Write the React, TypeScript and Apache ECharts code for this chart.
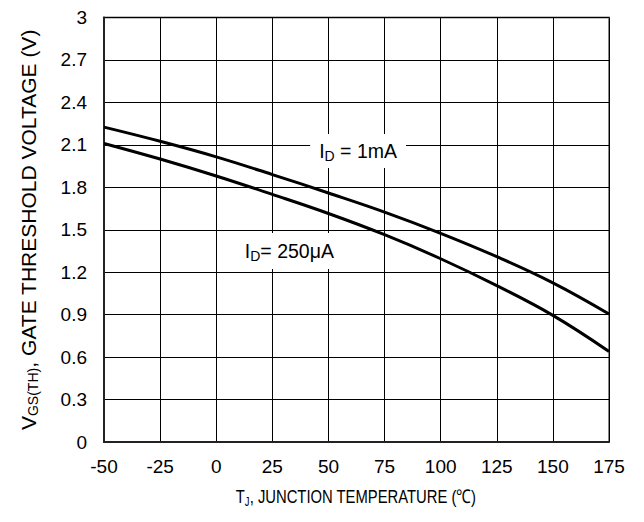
import React, { useEffect, useRef } from "react";
import * as echarts from "echarts";

const temps = [-50, -25, 0, 25, 50, 75, 100, 125, 150, 175];
const vth1mA = [2.225, 2.125, 2.015, 1.89, 1.76, 1.625, 1.475, 1.31, 1.125, 0.905];
const vth250uA = [2.11, 2.0, 1.88, 1.75, 1.615, 1.465, 1.295, 1.105, 0.895, 0.64];
const xTickLabels = ["-50", "-25", "0", "25", "50", "75", "100", "125", "150", "175"];
const yTickLabels = ["0", "0.3", "0.6", "0.9", "1.2", "1.5", "1.8", "2.1", "2.4", "2.7", "3"];
const label1mA = { x: 63.2, y: 2.056, text: "{n|I}{sub|D}{n| = 1mA}" };
const label250uA = { x: 32.6, y: 1.349, text: "{n|I}{sub|D}{n|= 250μA}" };
const xTitle = "{n|T}{sub|J}{n|, JUNCTION TEMPERATURE (℃)}";
const yTitle = "{n|V}{sub|GS(TH)}{n|, GATE THRESHOLD VOLTAGE (V)}";

const FONT = "'Liberation Sans', Arial, sans-serif";

export default function App() {
  const ref = useRef<HTMLDivElement>(null);
  useEffect(() => {
    if (!ref.current) return;
    const chart = echarts.init(ref.current, null, { renderer: "svg" });
    const richY = {
      n: { fontSize: 21, lineHeight: 24, fontFamily: FONT, color: "#000" },
      sub: { fontSize: 14, lineHeight: 16, fontFamily: FONT, color: "#000", padding: [10, 0, 0, 0] },
    };
    const richX = {
      n: { fontSize: 19, lineHeight: 22, fontFamily: FONT, color: "#000" },
      sub: { fontSize: 12, lineHeight: 14, fontFamily: FONT, color: "#000", padding: [10, 0, 0, 0] },
    };
    const richLabel = {
      n: { fontSize: 19.5, lineHeight: 24, fontFamily: FONT, color: "#000" },
      sub: { fontSize: 14, lineHeight: 16, fontFamily: FONT, color: "#000", padding: [10, 0, 0, 0] },
    };
    const mk = (l: { x: number; y: number; text: string }, pad: number[]) => ({
      symbol: "circle",
      symbolSize: 1,
      silent: true,
      itemStyle: { color: "rgba(0,0,0,0)" },
      data: [
        {
          coord: [l.x, l.y],
          label: {
            show: true,
            position: "inside",
            formatter: l.text,
            backgroundColor: "#fff",
            padding: pad,
            rich: richLabel,
          },
        },
      ],
    });
    chart.setOption({
      animation: false,
      backgroundColor: "#fff",
      grid: {
        left: 96,
        right: 27,
        top: 8,
        bottom: 72,
        show: true,
        borderColor: "#888",
        borderWidth: 2,
      },
      graphic: [
        {
          type: "text",
          x: 348,
          y: 489,
          scaleX: 0.78,
          style: {
            text: xTitle,
            rich: richX,
            align: "center",
            verticalAlign: "middle",
            fill: "#000",
          },
        },
      ],
      xAxis: {
        type: "value",
        min: -50,
        max: 175,
        interval: 25,
        axisLine: { show: true, onZero: false, lineStyle: { color: "#222", width: 2 } },
        axisTick: { show: false },
        splitLine: { show: true, lineStyle: { color: "#000", width: 1 } },
        axisLabel: {
          margin: 15,
          fontSize: 19,
          fontFamily: FONT,
          color: "#000",
          formatter: (v: number) => xTickLabels[temps.indexOf(v)] ?? String(v),
        },
      },
      yAxis: {
        type: "value",
        min: 0,
        max: 3,
        interval: 0.3,
        axisLine: { show: true, onZero: false, lineStyle: { color: "#222", width: 2 } },
        axisTick: { show: false },
        splitLine: { show: true, lineStyle: { color: "#000", width: 1 } },
        axisLabel: {
          margin: 17,
          fontSize: 19,
          fontFamily: FONT,
          color: "#000",
          formatter: (v: number) => yTickLabels[Math.round(v / 0.3)] ?? String(v),
        },
        name: yTitle,
        nameLocation: "middle",
        nameRotate: 90,
        nameGap: 64,
        nameTextStyle: { rich: richY },
      },
      series: [
        {
          type: "line",
          name: "1mA",
          data: temps.map((t, i) => [t, vth1mA[i]]),
          smooth: 0.4,
          showSymbol: false,
          lineStyle: { color: "#000", width: 3 },
          z: 3,
          markPoint: mk(label1mA, [5, 9, 5, 9]),
        },
        {
          type: "line",
          name: "250uA",
          data: temps.map((t, i) => [t, vth250uA[i]]),
          smooth: 0.4,
          showSymbol: false,
          lineStyle: { color: "#000", width: 3 },
          z: 3,
          markPoint: mk(label250uA, [6, 8, 6, 8]),
        },
      ],
    });
    return () => chart.dispose();
  }, []);
  return <div ref={ref} style={{ width: 628, height: 506 }} />;
}
